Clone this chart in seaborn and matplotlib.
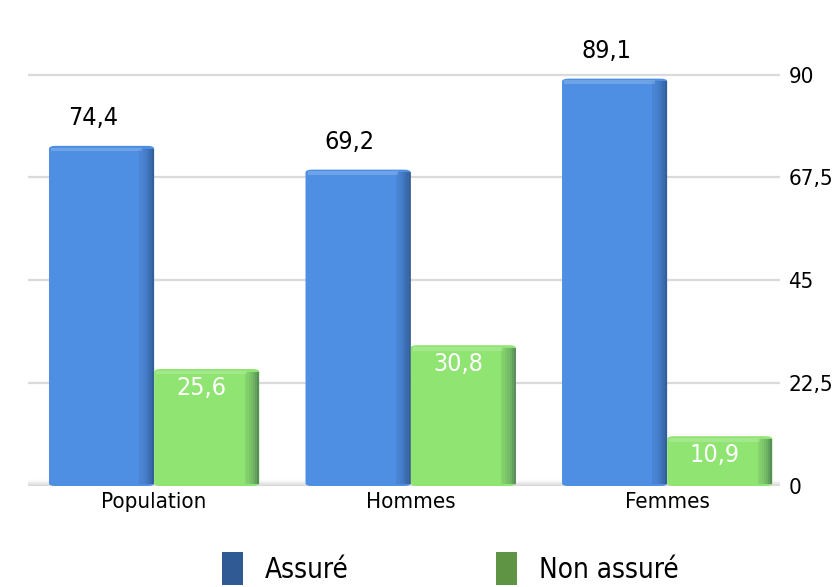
import matplotlib
matplotlib.use("Agg")
import matplotlib.pyplot as plt
import seaborn as sns
import pandas as pd
import numpy as np
from matplotlib.patches import FancyBboxPatch

categories = ["Population", "Hommes", "Femmes"]
assure = [74.4, 69.2, 89.1]
non_assure = [25.6, 30.8, 10.9]
series_names = ["Assuré", "Non assuré"]
y_ticks = [0, 22.5, 45, 67.5, 90]

bar_colors = ["#4F8FE3", "#8FE472"]
legend_colors = ["#2F5A94", "#5E9444"]

df = pd.DataFrame({
    "cat": categories * 2,
    "serie": [series_names[0]] * 3 + [series_names[1]] * 3,
    "val": assure + non_assure,
})

sns.set_theme(style="white")
plt.rcParams["font.family"] = ["DejaVu Sans"]
plt.rcParams["font.stretch"] = "condensed"
plt.rcParams["text.color"] = "black"
plt.rcParams["xtick.color"] = "black"
plt.rcParams["ytick.color"] = "black"

fig = plt.figure(figsize=(8.37, 5.87), dpi=100)
ax = fig.add_axes([0.034, 0.172, 0.898, 0.74])

sns.barplot(data=df, x="cat", y="val", hue="serie", order=categories,
            hue_order=series_names, palette=bar_colors, width=0.82,
            saturation=1, ax=ax, legend=False)

# the six bars drawn by seaborn, grouped by series
bars = [b for b in ax.patches if b.get_height() > 0]
bars.sort(key=lambda b: b.get_x())
blue_bars = bars[0::2]
green_bars = bars[1::2]

# soft floor shadow under the bars
for i, a in enumerate(np.linspace(0.02, 0.12, 8)):
    ax.axhspan(-1.5 + i * 0.18, 1.5 - i * 0.18, color="#777777", alpha=a * 0.5,
               lw=0, zorder=0.5)

# rounded, shaded bars built from the bar geometry
for b in bars:
    x, y = b.get_x(), b.get_y()
    w, h = b.get_width(), b.get_height()
    fc = b.get_facecolor()
    b.set_visible(False)
    r = FancyBboxPatch((x, y), w, h, boxstyle="round,pad=0,rounding_size=0.025",
                       mutation_aspect=25, fc=fc, ec="none", zorder=2)
    ax.add_patch(r)
    # darkening toward the right edge for depth
    n = 7
    for k in range(n):
        frac = (k + 1) / n
        sx = x + w * (0.86 + 0.14 * k / n)
        ax.add_patch(plt.Rectangle((sx, y + 0.4), w * 0.14 / n, h - 1.0,
                                   fc="#10203a", ec="none", alpha=0.08 + 0.35 * frac ** 2,
                                   zorder=2.1))
    # lighter top face
    ax.add_patch(plt.Rectangle((x + w * 0.02, y + h - 1.2), w * 0.86, 0.8,
                               fc="white", ec="none", alpha=0.18, zorder=2.2))

ax.set_ylim(0, 95)
ax.set_xlim(-0.49, 2.44)
ax.set_yticks(y_ticks)
ax.set_yticklabels([f"{t:g}".replace(".", ",") for t in y_ticks], fontsize=16)
ax.yaxis.tick_right()
ax.tick_params(axis="y", length=0, pad=6)
ax.grid(axis="y", color="#DADADA", lw=1.6, zorder=0)
ax.set_axisbelow(True)
for s in ax.spines.values():
    s.set_visible(False)
ax.set_xlabel("")
ax.set_ylabel("")
ax.set_xticks(range(3))
ax.set_xticklabels(categories, fontsize=16)
ax.tick_params(axis="x", length=0, pad=4)

# value labels
for b, v in zip(blue_bars, assure):
    ax.text(b.get_x() + b.get_width() * 0.42, v + 3.5, f"{v:.1f}".replace(".", ","),
            ha="center", va="bottom", fontsize=18, color="black", zorder=5, clip_on=False)
for b, v in zip(green_bars, non_assure):
    ax.text(b.get_x() + b.get_width() * 0.45, v - 1.5, f"{v:.1f}".replace(".", ","),
            ha="center", va="top", fontsize=18, color="white", zorder=5)

# legend
handles = [plt.Rectangle((0, 0), 1, 1, fc=c, ec="none") for c in legend_colors]
fig.legend(handles, series_names, loc="lower center", bbox_to_anchor=(0.538, -0.04),
           ncol=2, frameon=False, fontsize=20, handlelength=0.75, handleheight=1.5,
           columnspacing=5.3, handletextpad=0.8)

fig.savefig("out.png", dpi=100)
